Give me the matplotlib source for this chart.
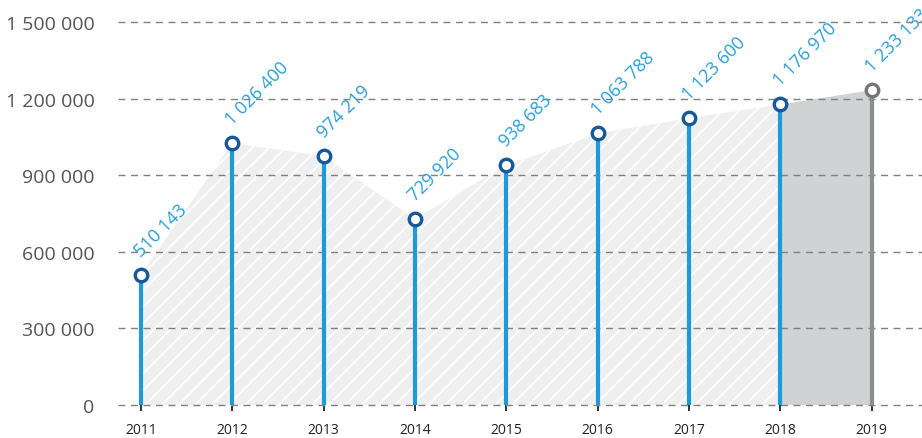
import matplotlib
matplotlib.use("Agg")
import matplotlib.pyplot as plt

years = [2011, 2012, 2013, 2014, 2015, 2016, 2017, 2018, 2019]
values = [510143, 1026400, 974219, 729920, 938683, 1063788, 1123600, 1176970, 1233133]
yticks = [0, 300000, 600000, 900000, 1200000, 1500000]


def fmt(v):
    # thousands separated by spaces
    return "{:,}".format(v).replace(",", " ")


plt.rcParams['font.family'] = ['Open Sans', 'DejaVu Sans']
plt.rcParams['hatch.linewidth'] = 1.2

fig = plt.figure(figsize=(9.22, 4.39), dpi=100)
ax = fig.add_axes([118 / 922, 1 - 406 / 439, 1 - 118 / 922, 383 / 439])

# shaded area under the series: hatched up to 2018, solid grey for 2019
ax.fill_between(years[:8], 0, values[:8], facecolor='#efefef', edgecolor='white',
                hatch='//', linewidth=0, zorder=1)
ax.fill_between(years[7:], 0, values[7:], facecolor='#d1d2d4', linewidth=0, zorder=1)

for y in yticks:
    ax.axhline(y, color='#808080', lw=1, dashes=(5, 4), zorder=2, clip_on=False)

for i, (yr, v) in enumerate(zip(years, values)):
    last = i == len(years) - 1
    stem_c = '#8d8e90' if last else '#1f9ad6'
    edge_c = '#75767a' if last else '#17589a'
    ax.plot([yr, yr], [0, v], color=stem_c, lw=3, solid_capstyle='butt', zorder=3)
    ax.plot(yr, v, marker='o', ms=9, mfc='white', mec=edge_c, mew=2.4, zorder=4,
            clip_on=False)
    ax.annotate(fmt(v), (yr, v), xytext=(2, 11), textcoords='offset points',
                rotation=45, rotation_mode='anchor', ha='left', va='bottom',
                color='#2a9fd9', fontsize=13, clip_on=False)

ax.set_xlim(2010.75, 2019.55)
ax.set_ylim(0, 1500000)
ax.set_xticks(years)
ax.set_xticklabels([str(y) for y in years], fontsize=10, color='#222222')
ax.set_yticks(yticks)
ax.set_yticklabels([fmt(y) for y in yticks], fontsize=14, color='#555555')
ax.tick_params(axis='y', length=0, pad=17)
ax.tick_params(axis='x', length=8, width=1.2, direction='inout', color='#111111', pad=8)
for s in ax.spines.values():
    s.set_visible(False)

fig.savefig("out.png", dpi=100)
